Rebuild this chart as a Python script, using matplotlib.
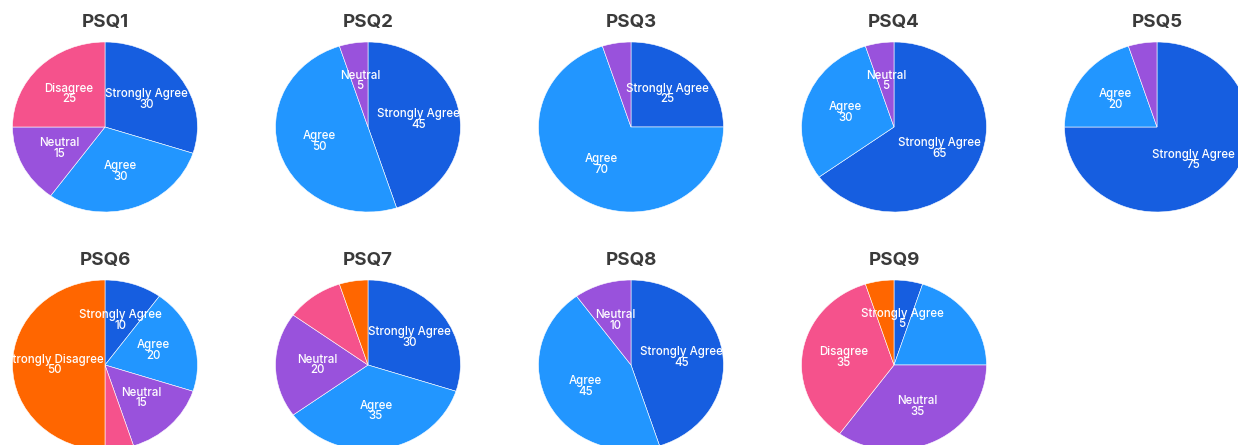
import numpy as np
import matplotlib.pyplot as plt

questions = ["PSQ1", "PSQ2", "PSQ3", "PSQ4", "PSQ5", "PSQ6", "PSQ7", "PSQ8", "PSQ9"]
categories = ["Strongly Agree", "Agree", "Neutral", "Disagree", "Strongly Disagree"]
colors = ["#165EE0", "#2296FF", "#9952DC", "#F5528C", "#FF6600"]

# counts per question, in category order (0 = not present)
psq1 = [30, 30, 15, 25, 0]
psq2 = [45, 50, 5, 0, 0]
psq3 = [25, 70, 5, 0, 0]
psq4 = [65, 30, 5, 0, 0]
psq5 = [75, 20, 5, 0, 0]
psq6 = [10, 20, 15, 5, 50]
psq7 = [30, 35, 20, 10, 5]
psq8 = [45, 45, 10, 0, 0]
psq9 = [5, 20, 35, 35, 5]
values = [psq1, psq2, psq3, psq4, psq5, psq6, psq7, psq8, psq9]

# slices whose text did not fit in the original
hidden = {("PSQ3", "Neutral"), ("PSQ5", "Neutral"), ("PSQ6", "Disagree"),
          ("PSQ7", "Disagree"), ("PSQ7", "Strongly Disagree"),
          ("PSQ9", "Agree"), ("PSQ9", "Strongly Disagree")}

W, H = 1238, 445
fig = plt.figure(figsize=(W / 100, H / 100), dpi=100)

col_x = [105, 368, 631, 894, 1157]
row_y = [127, 365]
rx, ry = 92.5, 85

for i, (q, vals) in enumerate(zip(questions, values)):
    cx = col_x[i % 5]
    cy = row_y[i // 5]
    ax = fig.add_axes([(cx - rx) / W, 1 - (cy + ry) / H, 2 * rx / W, 2 * ry / H])
    cats = [c for c, v in zip(categories, vals) if v > 0]
    cols = [col for col, v in zip(colors, vals) if v > 0]
    vs = [v for v in vals if v > 0]
    wedges, _ = ax.pie(vs, colors=cols, startangle=90, counterclock=False,
                       wedgeprops=dict(edgecolor="white", linewidth=0.4))
    ax.set_aspect("auto")
    ax.set_xlim(-1, 1)
    ax.set_ylim(-1, 1)
    for w, c, v in zip(wedges, cats, vs):
        if (q, c) in hidden:
            continue
        ang = np.deg2rad((w.theta1 + w.theta2) / 2)
        r = 0.55
        ax.text(r * np.cos(ang), r * np.sin(ang), f"{c}\n{v}", ha="center",
                va="center", color="white", fontsize=8.3, family="Inter",
                fontweight="medium", linespacing=0.85)
    fig.text(cx / W, 1 - (cy - ry - 20) / H, q, ha="center", va="center",
             fontsize=13.5, fontweight="bold", family="Inter", color="#3a3a3a")

fig.savefig("out.png", dpi=100)
